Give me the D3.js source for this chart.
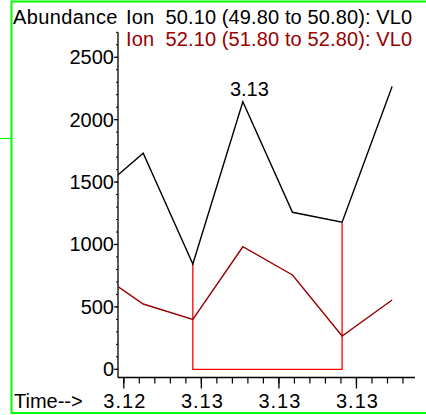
<!DOCTYPE html>
<html lang="en">
<head>
  <meta charset="utf-8">
  <title>Ion chromatogram</title>
  <script src="https://d3js.org/d3.v7.js"></script>
  <style>
    body { margin: 0; background: #fff; }
    text { font-family: "Liberation Sans", Arial, sans-serif; }
  </style>
</head>
<body>
  <div id="my_dataviz"></div>

  <script>
    // Retention time of each scan (min)
    var times = [3.12322, 3.12450, 3.12578, 3.12707, 3.12835, 3.12963, 3.13092];
    // Abundance, ion 50.10
    var ion50 = [1389, 1731, 844, 2144, 1258, 1178, 2265];
    // Abundance, ion 52.10
    var ion52 = [796, 523, 400, 982, 756, 267, 555];
    var legendLabels = ["Ion  50.10 (49.80 to 50.80): VL0", "Ion  52.10 (51.80 to 52.80): VL0"];
    var yTicks = [0, 500, 1000, 1500, 2000, 2500];
    var xTicks = [3.124, 3.126, 3.128, 3.130];
    var xTickLabels = ["3.12", "3.13", "3.13", "3.13"];
    // integrated peak: scan index start / end
    var peakStart = 2, peakEnd = 5, peakTop = 3, peakLabel = "3.13";

    var W = 426, H = 415;
    var svg = d3.select("#my_dataviz")
      .append("svg")
      .attr("width", W)
      .attr("height", H);

    // green frame
    svg.append("rect")
      .attr("x", 11.5).attr("y", 1.5)
      .attr("width", 430).attr("height", 411.5)
      .attr("fill", "none").attr("stroke", "#00ff00").attr("stroke-width", 2);
    svg.append("line")
      .attr("x1", 0).attr("x2", 11).attr("y1", 138.5).attr("y2", 138.5)
      .attr("stroke", "#00ff00").attr("stroke-width", 1.2);

    var x = d3.scaleLinear().domain([3.12385, 3.13151]).range([118, 415]);
    var y = d3.scaleLinear().domain([0, 2700]).range([369.3, 32.3]);
    var yBottom = 377.5;

    // Y axis
    svg.append("line")
      .attr("x1", 118).attr("x2", 118).attr("y1", y(2700)).attr("y2", yBottom)
      .attr("stroke", "#000").attr("stroke-width", 1.3);
    svg.selectAll(".yminor")
      .data(d3.range(0, 2701, 100))
      .enter().append("line")
      .attr("x1", 116).attr("x2", 118)
      .attr("y1", function(d) { return y(d); })
      .attr("y2", function(d) { return y(d); })
      .attr("stroke", "#000").attr("stroke-width", 1);
    svg.selectAll(".ymajor")
      .data(yTicks)
      .enter().append("line")
      .attr("x1", 114).attr("x2", 118)
      .attr("y1", function(d) { return y(d); })
      .attr("y2", function(d) { return y(d); })
      .attr("stroke", "#000").attr("stroke-width", 1.2);
    svg.selectAll(".ylab")
      .data(yTicks)
      .enter().append("text")
      .attr("x", 114)
      .attr("y", function(d) { return y(d) + 7; })
      .attr("text-anchor", "end")
      .attr("font-size", 20)
      .text(function(d) { return d; });

    // X axis
    svg.append("line")
      .attr("x1", 118).attr("x2", 415).attr("y1", yBottom).attr("y2", yBottom)
      .attr("stroke", "#000").attr("stroke-width", 1.3);
    var minor = d3.range(0, 20).map(function(i) { return 3.124 + i * 0.0004; })
      .filter(function(d) { return x(d) <= 412; });
    svg.selectAll(".xminor")
      .data(minor)
      .enter().append("line")
      .attr("x1", function(d) { return x(d); })
      .attr("x2", function(d) { return x(d); })
      .attr("y1", yBottom).attr("y2", yBottom + 6)
      .attr("stroke", "#000").attr("stroke-width", 1.2);
    svg.selectAll(".xmajor")
      .data(xTicks)
      .enter().append("line")
      .attr("x1", function(d) { return x(d); })
      .attr("x2", function(d) { return x(d); })
      .attr("y1", yBottom).attr("y2", yBottom + 11)
      .attr("stroke", "#000").attr("stroke-width", 1.3);
    svg.selectAll(".xlab")
      .data(xTicks)
      .enter().append("text")
      .attr("x", function(d) { return x(d) + 1; })
      .attr("y", 407.5)
      .attr("text-anchor", "middle")
      .attr("font-size", 20)
      .attr("letter-spacing", 1)
      .text(function(d, i) { return xTickLabels[i]; });

    // titles
    svg.append("text").attr("x", 13).attr("y", 23.5).attr("font-size", 20)
      .attr("letter-spacing", 0.4).text("Abundance");
    svg.append("text").attr("x", 14).attr("y", 407.5).attr("font-size", 20).text("Time-->");
    svg.selectAll(".leg")
      .data(legendLabels)
      .enter().append("text")
      .attr("x", 126)
      .attr("y", function(d, i) { return 23.5 + i * 22.5; })
      .attr("font-size", 20)
      .attr("letter-spacing", 0.12)
      .attr("fill", function(d, i) { return i === 0 ? "#000" : "#990000"; })
      .style("white-space", "pre")
      .text(function(d) { return d; });

    // clip to plot
    svg.append("clipPath").attr("id", "plot")
      .append("rect").attr("x", 118).attr("y", 0).attr("width", 310).attr("height", yBottom);

    var line = d3.line()
      .x(function(d) { return x(d[0]); })
      .y(function(d) { return y(d[1]); });

    // integration baseline
    var base = [
      [times[peakStart], ion50[peakStart]], [times[peakStart], 0],
      [times[peakEnd], 0], [times[peakEnd], ion50[peakEnd]]
    ];
    svg.append("path")
      .attr("d", line(base))
      .attr("fill", "none").attr("stroke", "#ff0000").attr("stroke-width", 1.3);

    svg.append("path")
      .attr("clip-path", "url(#plot)")
      .attr("d", line(d3.zip(times, ion52)))
      .attr("fill", "none").attr("stroke", "#990000").attr("stroke-width", 1.4);

    svg.append("path")
      .attr("clip-path", "url(#plot)")
      .attr("d", line(d3.zip(times, ion50)))
      .attr("fill", "none").attr("stroke", "#000").attr("stroke-width", 1.4);

    // peak label
    svg.append("text")
      .attr("x", x(times[peakTop]) + 6.5)
      .attr("y", y(ion50[peakTop]) - 6)
      .attr("text-anchor", "middle")
      .attr("font-size", 20)
      .text(peakLabel);
  </script>
</body>
</html>
